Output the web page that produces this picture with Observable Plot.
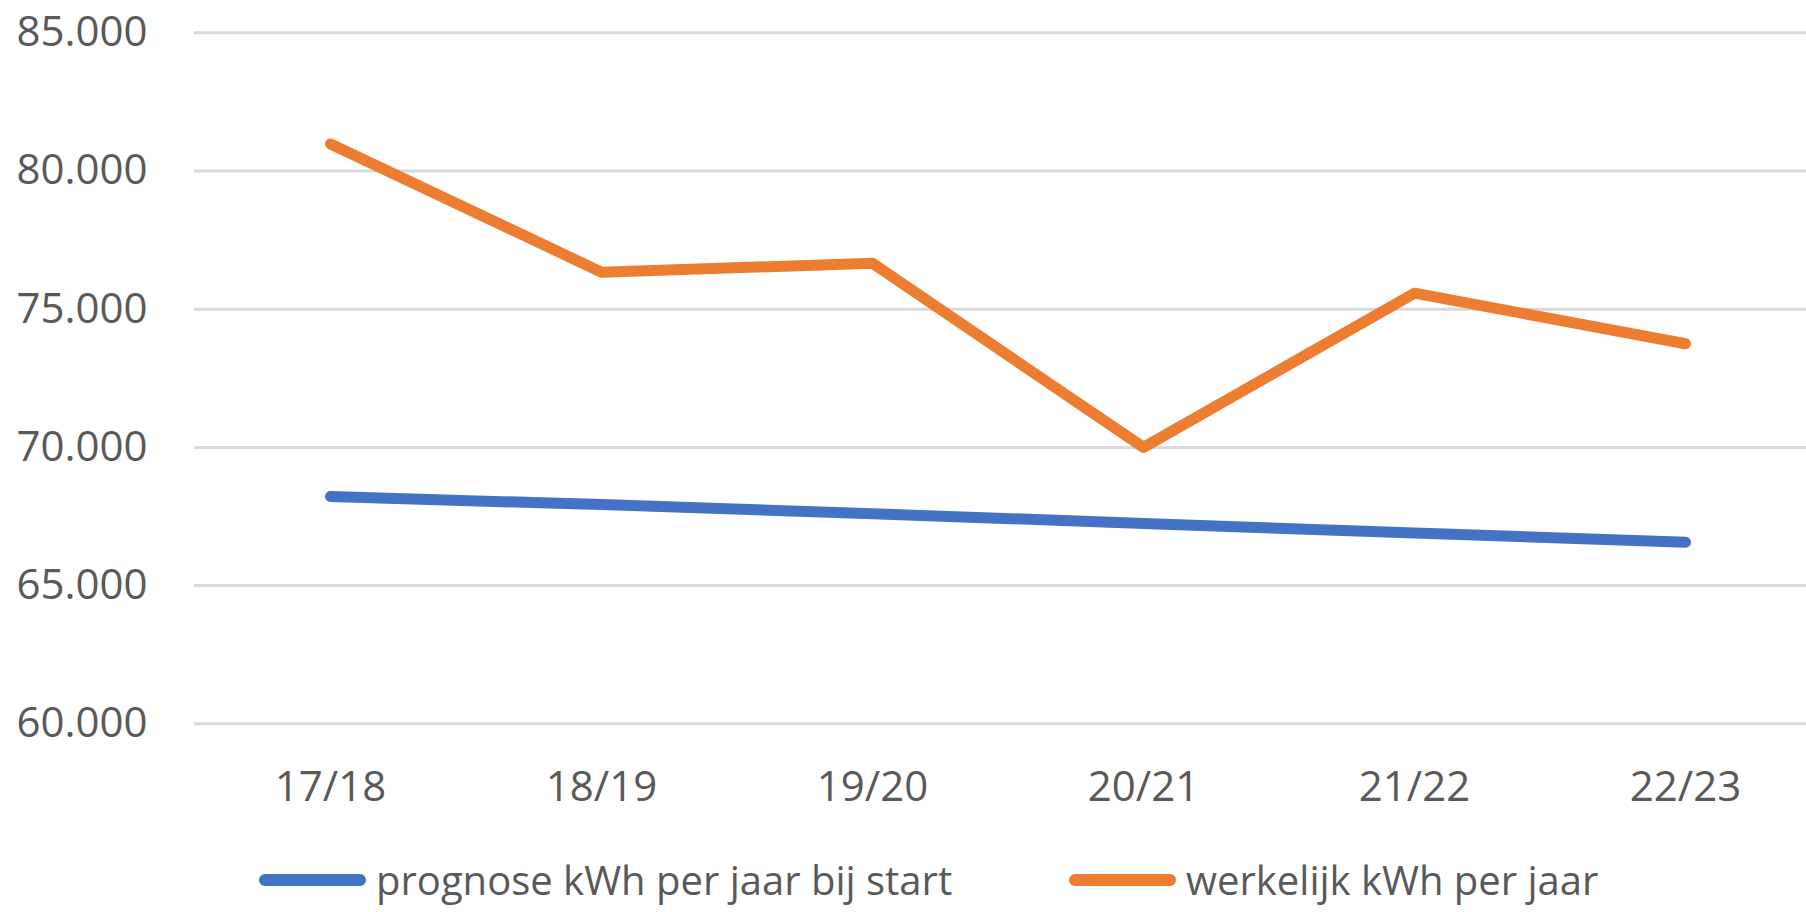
<!DOCTYPE html>
<html>
<head>
<meta charset="utf-8">
<script src="https://cdn.jsdelivr.net/npm/d3@7"></script>
<script src="https://cdn.jsdelivr.net/npm/@observablehq/plot@0.6"></script>
<style>
  html, body { margin: 0; padding: 0; background: #fff; }
  #wrap { position: relative; width: 1806px; height: 912px; overflow: hidden; font-family: "Open Sans", sans-serif; color: #595959; }
  .item { position: absolute; top: 858px; height: 44px; display: flex; align-items: center; font-size: 40px; line-height: 1; white-space: nowrap; }
  .sw { display: inline-block; width: 107px; height: 12px; border-radius: 6px; margin-right: 10px; }
</style>
</head>
<body>
<div id="wrap"></div>
<script>
const seasons = ["17/18", "18/19", "19/20", "20/21", "21/22", "22/23"];
const prognose = [68220, 67930, 67600, 67250, 66900, 66570];
const werkelijk = [80980, 76340, 76660, 70000, 75580, 73750];
const yTicks = [60000, 65000, 70000, 75000, 80000, 85000];
const seriesNames = ["prognose kWh per jaar bij start", "werkelijk kWh per jaar"];
const seriesColors = ["#4472C4", "#ED7D31"];
const legendLeft = [259, 1069];

const data = [];
[prognose, werkelijk].forEach((vals, i) => {
  vals.forEach((v, j) => data.push({season: seasons[j], value: v, series: seriesNames[i]}));
});

const fmt = d => d3.format(",")(d).replace(/,/g, ".");

const chart = Plot.plot({
  width: 1806,
  height: 845,
  marginTop: 32.3,
  marginBottom: 121.7,
  marginLeft: 194,
  marginRight: -15,
  style: {fontFamily: "Open Sans", fontSize: "42px", color: "#595959", background: "white", overflow: "hidden"},
  x: {type: "point", domain: seasons, padding: 0.5, label: null},
  y: {domain: [60000, 85000], label: null},
  color: {domain: seriesNames, range: seriesColors},
  marks: [
    Plot.ruleY(yTicks, {stroke: "#D9D9D9", strokeWidth: 3}),
    Plot.axisY({ticks: yTicks, tickSize: 0, tickPadding: 47, tickFormat: fmt, label: null}),
    Plot.axisX({tickSize: 0, tickPadding: 47, label: null}),
    Plot.line(data, {x: "season", y: "value", z: "series", stroke: "series", strokeWidth: 11, strokeLinecap: "round", strokeLinejoin: "round"})
  ]
});

const wrap = document.getElementById("wrap");
wrap.appendChild(chart);

seriesNames.forEach((name, i) => {
  const item = document.createElement("div");
  item.className = "item";
  item.style.left = legendLeft[i] + "px";
  const sw = document.createElement("span");
  sw.className = "sw";
  sw.style.background = seriesColors[i];
  const label = document.createElement("span");
  label.textContent = name;
  item.appendChild(sw);
  item.appendChild(label);
  wrap.appendChild(item);
});
</script>
</body>
</html>
